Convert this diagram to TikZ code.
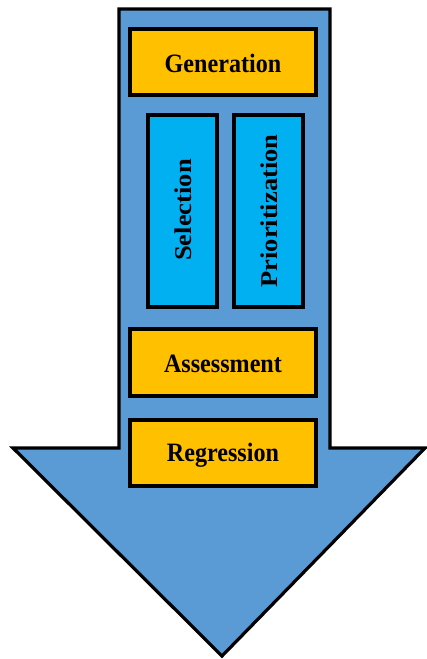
\documentclass[tikz,border=0pt]{standalone}
\usepackage{fontspec}
\setmainfont{Liberation Serif}
\definecolor{arrowblue}{HTML}{5B9BD5}
\definecolor{stepgold}{HTML}{FFC000}
\definecolor{stepcyan}{HTML}{00B0F0}
\begin{document}
\begin{tikzpicture}[x=1pt,y=-1pt,
  stagebox/.style={draw=black,line width=3.2pt,fill=stepgold,inner sep=0pt},
  sidebox/.style={draw=black,line width=3.2pt,fill=stepcyan,inner sep=0pt},
  label/.style={font=\bfseries\fontsize{26.5}{26.5}\selectfont,xscale=0.91}]
\useasboundingbox (0,0) rectangle (427,659);
% big downward arrow
\draw[line width=3.2pt,fill=arrowblue,line join=miter]
  (119,9) -- (330,9) -- (330,448) -- (425,448) -- (222,656) -- (13,448) -- (119,448) -- cycle;
% stages
\draw[stagebox] (130,29) rectangle (316,95);
\node[label] (gen) at (223,63) {Generation};
\draw[sidebox] (148,115) rectangle (217,307);
\node[label,rotate=90] (sel) at (183,210) {Selection};
\draw[sidebox] (234,115) rectangle (303,307);
\node[label,rotate=90] (pri) at (269,211) {Prioritization};
\draw[stagebox] (130,329) rectangle (316,396);
\node[label] (ass) at (223,364) {Assessment};
\draw[stagebox] (130,420) rectangle (316,486);
\node[label] (reg) at (223,455) {Regression};
\end{tikzpicture}
\end{document}
